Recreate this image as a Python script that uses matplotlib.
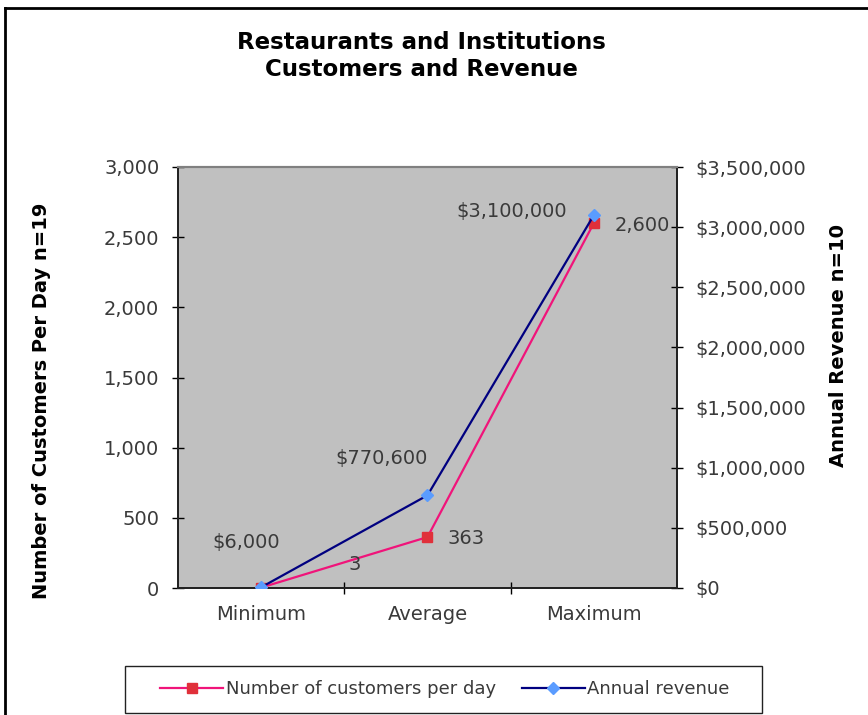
import matplotlib
matplotlib.use("Agg")
import matplotlib.pyplot as plt
from matplotlib.lines import Line2D
from matplotlib.patches import Rectangle
from matplotlib.ticker import FuncFormatter, FixedLocator

categories = ["Minimum", "Average", "Maximum"]
customers = [3, 363, 2600]
revenue = [6000, 770600, 3100000]
customer_labels = ["3", "363", "2,600"]
revenue_labels = ["$6,000", "$770,600", "$3,100,000"]
left_ticks = [0, 500, 1000, 1500, 2000, 2500, 3000]
right_ticks = [0, 500000, 1000000, 1500000, 2000000, 2500000, 3000000, 3500000]

plt.rcParams['font.family'] = ['DejaVu Sans']
W, H = 868, 715
fig = plt.figure(figsize=(W / 100, H / 100), dpi=100)
fig.patch.set_facecolor('white')

ax = fig.add_axes([178 / W, 1 - 588 / H, (677 - 178) / W, (588 - 167) / H])
ax.set_facecolor('#C0C0C0')
ax2 = ax.twinx()

x = list(range(len(categories)))
pink = '#F0147A'
navy = '#000080'
ax.plot(x, customers, color=pink, lw=1.6, marker='s', ms=7,
        mfc='#E0303A', mec='#E0303A', label='Number of customers per day', zorder=3)
ax2.plot(x, revenue, color=navy, lw=1.6, marker='D', ms=6,
         mfc='#5A9CFF', mec='#5A9CFF', label='Annual revenue', zorder=4)

ax.set_xlim(-0.5, 2.5)
ax.set_ylim(0, 3000)
ax2.set_ylim(0, 3500000)

txtc = '#3a3a3a'
fs = 14
ax.set_xticks(x)
ax.set_xticklabels(categories, fontsize=fs, color=txtc)
ax.xaxis.set_minor_locator(FixedLocator([0.5, 1.5]))
ax.tick_params(axis='x', which='major', length=0, pad=12)
ax.tick_params(axis='x', which='minor', direction='inout', length=9, width=1)

ax.set_yticks(left_ticks)
ax.yaxis.set_major_formatter(FuncFormatter(lambda v, p: f"{int(v):,}"))
ax.tick_params(axis='y', direction='inout', length=9, width=1, labelsize=fs,
               labelcolor=txtc, pad=9)
ax2.set_yticks(right_ticks)
ax2.yaxis.set_major_formatter(FuncFormatter(lambda v, p: f"${int(v):,}"))
ax2.tick_params(axis='y', direction='inout', length=9, width=1, labelsize=fs,
                labelcolor=txtc, pad=9)

for a in (ax, ax2):
    a.spines['top'].set_color('#808080')
    a.spines['top'].set_linewidth(1.5)
    for s in ('left', 'right', 'bottom'):
        a.spines[s].set_color('#222222')
        a.spines[s].set_linewidth(1.3)

# data labels (offsets in pixels)
cust_off = [(94, 23), (39, -1), (48, -2)]
rev_off = [(-15, 45), (-46, 37), (-82, 4)]
for i in range(3):
    ax.annotate(customer_labels[i], (x[i], customers[i]), xytext=cust_off[i],
                textcoords='offset pixels', ha='center', va='center',
                fontsize=fs, color=txtc, zorder=5)
    ax2.annotate(revenue_labels[i], (x[i], revenue[i]), xytext=rev_off[i],
                 textcoords='offset pixels', ha='center', va='center',
                 fontsize=fs, color=txtc, zorder=5)

fig.text(421 / W, 1 - 56 / H, "Restaurants and Institutions\nCustomers and Revenue",
         ha='center', va='center', fontsize=16.5, fontweight='bold',
         linespacing=1.2)
fig.text(42 / W, 1 - 401 / H, "Number of Customers Per Day n=19", rotation=90,
         ha='center', va='center', fontsize=14, fontweight='bold')
fig.text(838 / W, 1 - 346 / H, "Annual Revenue n=10", rotation=90,
         ha='center', va='center', fontsize=14, fontweight='bold')

# legend
h1, l1 = ax.get_legend_handles_labels()
h2, l2 = ax2.get_legend_handles_labels()
fig.legend(h1 + h2, l1 + l2, loc='center', bbox_to_anchor=(445 / W, 1 - 689 / H),
           ncol=2, frameon=False, fontsize=13, handlelength=3.5,
           columnspacing=1.4, handletextpad=0.15, labelcolor=txtc)
fig.add_artist(Rectangle((125 / W, 1 - 713 / H), (762 - 125) / W, (713 - 666) / H,
                         transform=fig.transFigure, fill=False,
                         edgecolor='#222222', lw=1.0))

# outer border
fig.add_artist(Line2D([5 / W, 1], [1 - 8 / H, 1 - 8 / H], transform=fig.transFigure,
                      color='black', lw=2))
fig.add_artist(Line2D([5 / W, 5 / W], [0, 1 - 8 / H], transform=fig.transFigure,
                      color='black', lw=2))

fig.savefig("out.png", dpi=100, facecolor='white')
